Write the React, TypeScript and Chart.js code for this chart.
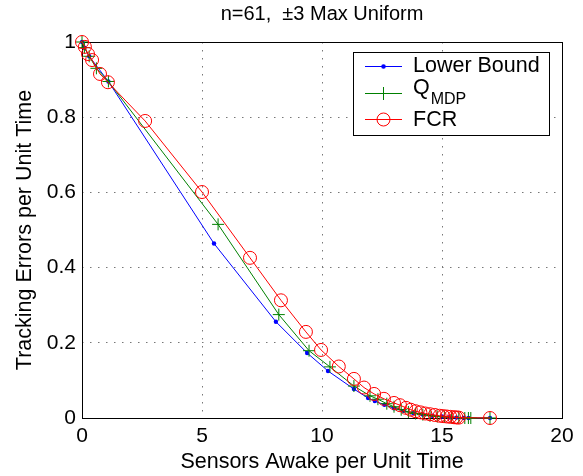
import React, { useEffect, useRef } from "react";
import { Chart, registerables } from "chart.js";

Chart.register(...registerables);

const titleText = "n=61,  \u00b13 Max Uniform";
const xAxisTitle = "Sensors Awake per Unit Time";
const yAxisTitle = "Tracking Errors per Unit Time";

const xTicks = [0, 5, 10, 15, 20];
const yTicks = [0, 0.2, 0.4, 0.6, 0.8, 1];

const lowerX = [0, 0.1, 0.3, 1.1, 5.5, 8.08, 9.38, 10.25, 11.33, 11.92, 12.2, 12.6, 13.0, 13.4, 13.8, 14.2, 14.6, 15.0, 15.3, 15.6, 15.9, 16.1, 17.0];
const lowerY = [1.0, 0.985, 0.962, 0.895, 0.464, 0.256, 0.173, 0.125, 0.077, 0.053, 0.045, 0.035, 0.026, 0.019, 0.013, 0.009, 0.006, 0.004, 0.002, 0.001, 0, 0, 0];

const qmdpX = [0, 0.1, 0.3, 0.6, 1.1, 5.67, 8.2, 9.46, 10.33, 11.33, 12.0, 12.33, 12.7, 13.0, 13.3, 13.6, 13.9, 14.2, 14.5, 14.8, 15.1, 15.4, 15.7, 15.95, 16.1, 16.2, 17.0];
const qmdpY = [1.0, 0.985, 0.962, 0.93, 0.895, 0.515, 0.275, 0.179, 0.136, 0.085, 0.059, 0.05, 0.038, 0.03, 0.022, 0.016, 0.012, 0.009, 0.006, 0.004, 0.003, 0.002, 0.001, 0, 0, 0, 0];

const fcrX = [0, 0.12, 0.25, 0.42, 0.75, 1.08, 2.63, 5.0, 7.0, 8.29, 9.33, 9.96, 10.7, 11.33, 11.75, 12.17, 12.58, 13.0, 13.25, 13.5, 13.7, 13.9, 14.1, 14.3, 14.5, 14.7, 14.9, 15.05, 15.2, 15.35, 15.5, 15.6, 15.7, 17.0];
const fcrY = [1.0, 0.987, 0.968, 0.952, 0.915, 0.893, 0.79, 0.601, 0.426, 0.313, 0.229, 0.181, 0.137, 0.104, 0.081, 0.064, 0.051, 0.04, 0.034, 0.027, 0.022, 0.018, 0.015, 0.012, 0.01, 0.008, 0.006, 0.005, 0.004, 0.003, 0.002, 0.0015, 0.001, 0];

const BLUE = "#0000ff";
const GREEN = "#008000";
const RED = "#ff0000";
const FONT = '"Liberation Sans", Arial, Helvetica, sans-serif';

const toPts = (xs: number[], ys: number[]) => xs.map((x, i) => ({ x, y: ys[i] }));

const decorPlugin = {
  id: "decor",
  beforeDatasetsDraw(chart: any) {
    const { ctx, chartArea: a } = chart;
    ctx.save();
    ctx.strokeStyle = "#000";
    ctx.lineWidth = 1;
    ctx.strokeRect(Math.round(a.left) + 0.5, Math.round(a.top) + 0.5, Math.round(a.right - a.left), Math.round(a.bottom - a.top));
    ctx.restore();
  },
  afterDraw(chart: any) {
    const { ctx, chartArea: a } = chart;
    ctx.save();
    ctx.fillStyle = "#000";
    // title
    ctx.font = `20px ${FONT}`;
    ctx.textAlign = "center";
    ctx.textBaseline = "middle";
    ctx.fillText(titleText, (a.left + a.right) / 2, 14);
    // x title
    ctx.font = `21.5px ${FONT}`;
    ctx.fillText(xAxisTitle, (a.left + a.right) / 2, 462);
    // y title
    ctx.save();
    ctx.translate(25, (a.top + a.bottom) / 2);
    ctx.rotate(-Math.PI / 2);
    ctx.fillText(yAxisTitle, 0, 0);
    ctx.restore();

    // legend
    const lx = 353.5, ly = 52.5, lw = 196, lh = 83;
    ctx.fillStyle = "#fff";
    ctx.fillRect(lx, ly, lw, lh);
    ctx.strokeStyle = "#000";
    ctx.lineWidth = 1;
    ctx.strokeRect(lx, ly, lw, lh);
    const rows = [
      { color: BLUE, y: 66, kind: "dot" },
      { color: GREEN, y: 93, kind: "cross" },
      { color: RED, y: 119, kind: "circle" },
    ];
    const x1 = 365, x2 = 402, mx = 383.5;
    rows.forEach((r) => {
      ctx.strokeStyle = r.color;
      ctx.fillStyle = r.color;
      ctx.lineWidth = 1;
      ctx.beginPath();
      ctx.moveTo(x1, r.y + 0.5);
      ctx.lineTo(x2, r.y + 0.5);
      ctx.stroke();
      if (r.kind === "dot") {
        ctx.beginPath();
        ctx.arc(mx, r.y + 0.5, 2.3, 0, Math.PI * 2);
        ctx.fill();
      } else if (r.kind === "cross") {
        ctx.beginPath();
        ctx.moveTo(mx, r.y - 6);
        ctx.lineTo(mx, r.y + 7);
        ctx.stroke();
      } else {
        ctx.beginPath();
        ctx.arc(mx, r.y + 0.5, 6.5, 0, Math.PI * 2);
        ctx.stroke();
      }
    });
    ctx.fillStyle = "#000";
    ctx.textAlign = "left";
    ctx.textBaseline = "middle";
    ctx.font = `21.5px ${FONT}`;
    ctx.fillText("Lower Bound", 413, 66);
    ctx.fillText("Q", 413, 88);
    const qw = ctx.measureText("Q").width;
    ctx.font = `16px ${FONT}`;
    ctx.fillText("MDP", 413 + qw + 1, 100);
    ctx.font = `21.5px ${FONT}`;
    ctx.fillText("FCR", 413, 120);
    ctx.restore();
  },
};

export default function App() {
  const ref = useRef<HTMLCanvasElement | null>(null);
  useEffect(() => {
    if (!ref.current) return;
    const chart = new Chart(ref.current, {
      type: "scatter",
      data: {
        datasets: [
          {
            label: "Lower Bound",
            data: toPts(lowerX, lowerY),
            showLine: true,
            borderColor: BLUE,
            backgroundColor: BLUE,
            borderWidth: 1,
            pointStyle: "circle",
            pointRadius: 2.2,
            pointBorderWidth: 0,
            pointBackgroundColor: BLUE,
            clip: false,
            order: 3,
          } as any,
          {
            label: "QMDP",
            data: toPts(qmdpX, qmdpY),
            showLine: true,
            borderColor: GREEN,
            backgroundColor: GREEN,
            borderWidth: 1,
            pointStyle: "cross",
            pointRadius: 6,
            pointBorderWidth: 1,
            pointBorderColor: GREEN,
            clip: false,
            order: 2,
          } as any,
          {
            label: "FCR",
            data: toPts(fcrX, fcrY),
            showLine: true,
            borderColor: RED,
            backgroundColor: "rgba(0,0,0,0)",
            borderWidth: 1,
            pointStyle: "circle",
            pointRadius: 6.5,
            pointBorderWidth: 1,
            pointBorderColor: RED,
            pointBackgroundColor: "rgba(0,0,0,0)",
            clip: false,
            order: 1,
          } as any,
        ],
      },
      options: {
        animation: false,
        responsive: false,
        devicePixelRatio: 1,
        layout: { padding: { top: 42, right: 21, left: 0, bottom: 0 } },
        plugins: {
          legend: { display: false },
          title: { display: false },
          tooltip: { enabled: false },
        },
        scales: {
          x: {
            type: "linear",
            min: 0,
            max: 20,
            afterBuildTicks: (s: any) => {
              s.ticks = xTicks.map((v) => ({ value: v }));
            },
            afterFit: (s: any) => {
              s.height = 58;
            },
            ticks: {
              color: "#000",
              font: { family: FONT, size: 21 },
              padding: 6,
              maxRotation: 0,
              callback: (v: any) => String(v),
            },
            grid: {
              color: "#777",
              lineWidth: 1,
              drawTicks: false,
              tickLength: 0,
            },
            border: { display: false, dash: [1.5, 6.5] },
          },
          y: {
            type: "linear",
            min: 0,
            max: 1,
            afterBuildTicks: (s: any) => {
              s.ticks = yTicks.map((v) => ({ value: v }));
            },
            afterFit: (s: any) => {
              s.width = 82;
            },
            ticks: {
              color: "#000",
              font: { family: FONT, size: 21 },
              padding: 6,
              callback: (v: any) => String(Math.round(Number(v) * 10) / 10),
            },
            grid: {
              color: "#777",
              lineWidth: 1,
              drawTicks: false,
              tickLength: 0,
            },
            border: { display: false, dash: [1.5, 6.5] },
          },
        },
      } as any,
      plugins: [decorPlugin],
    });
    return () => chart.destroy();
  }, []);
  return (
    <canvas
      ref={ref}
      width={583}
      height={476}
      style={{ position: "absolute", left: 0, top: 0, width: 583, height: 476, background: "#fff" }}
    />
  );
}
